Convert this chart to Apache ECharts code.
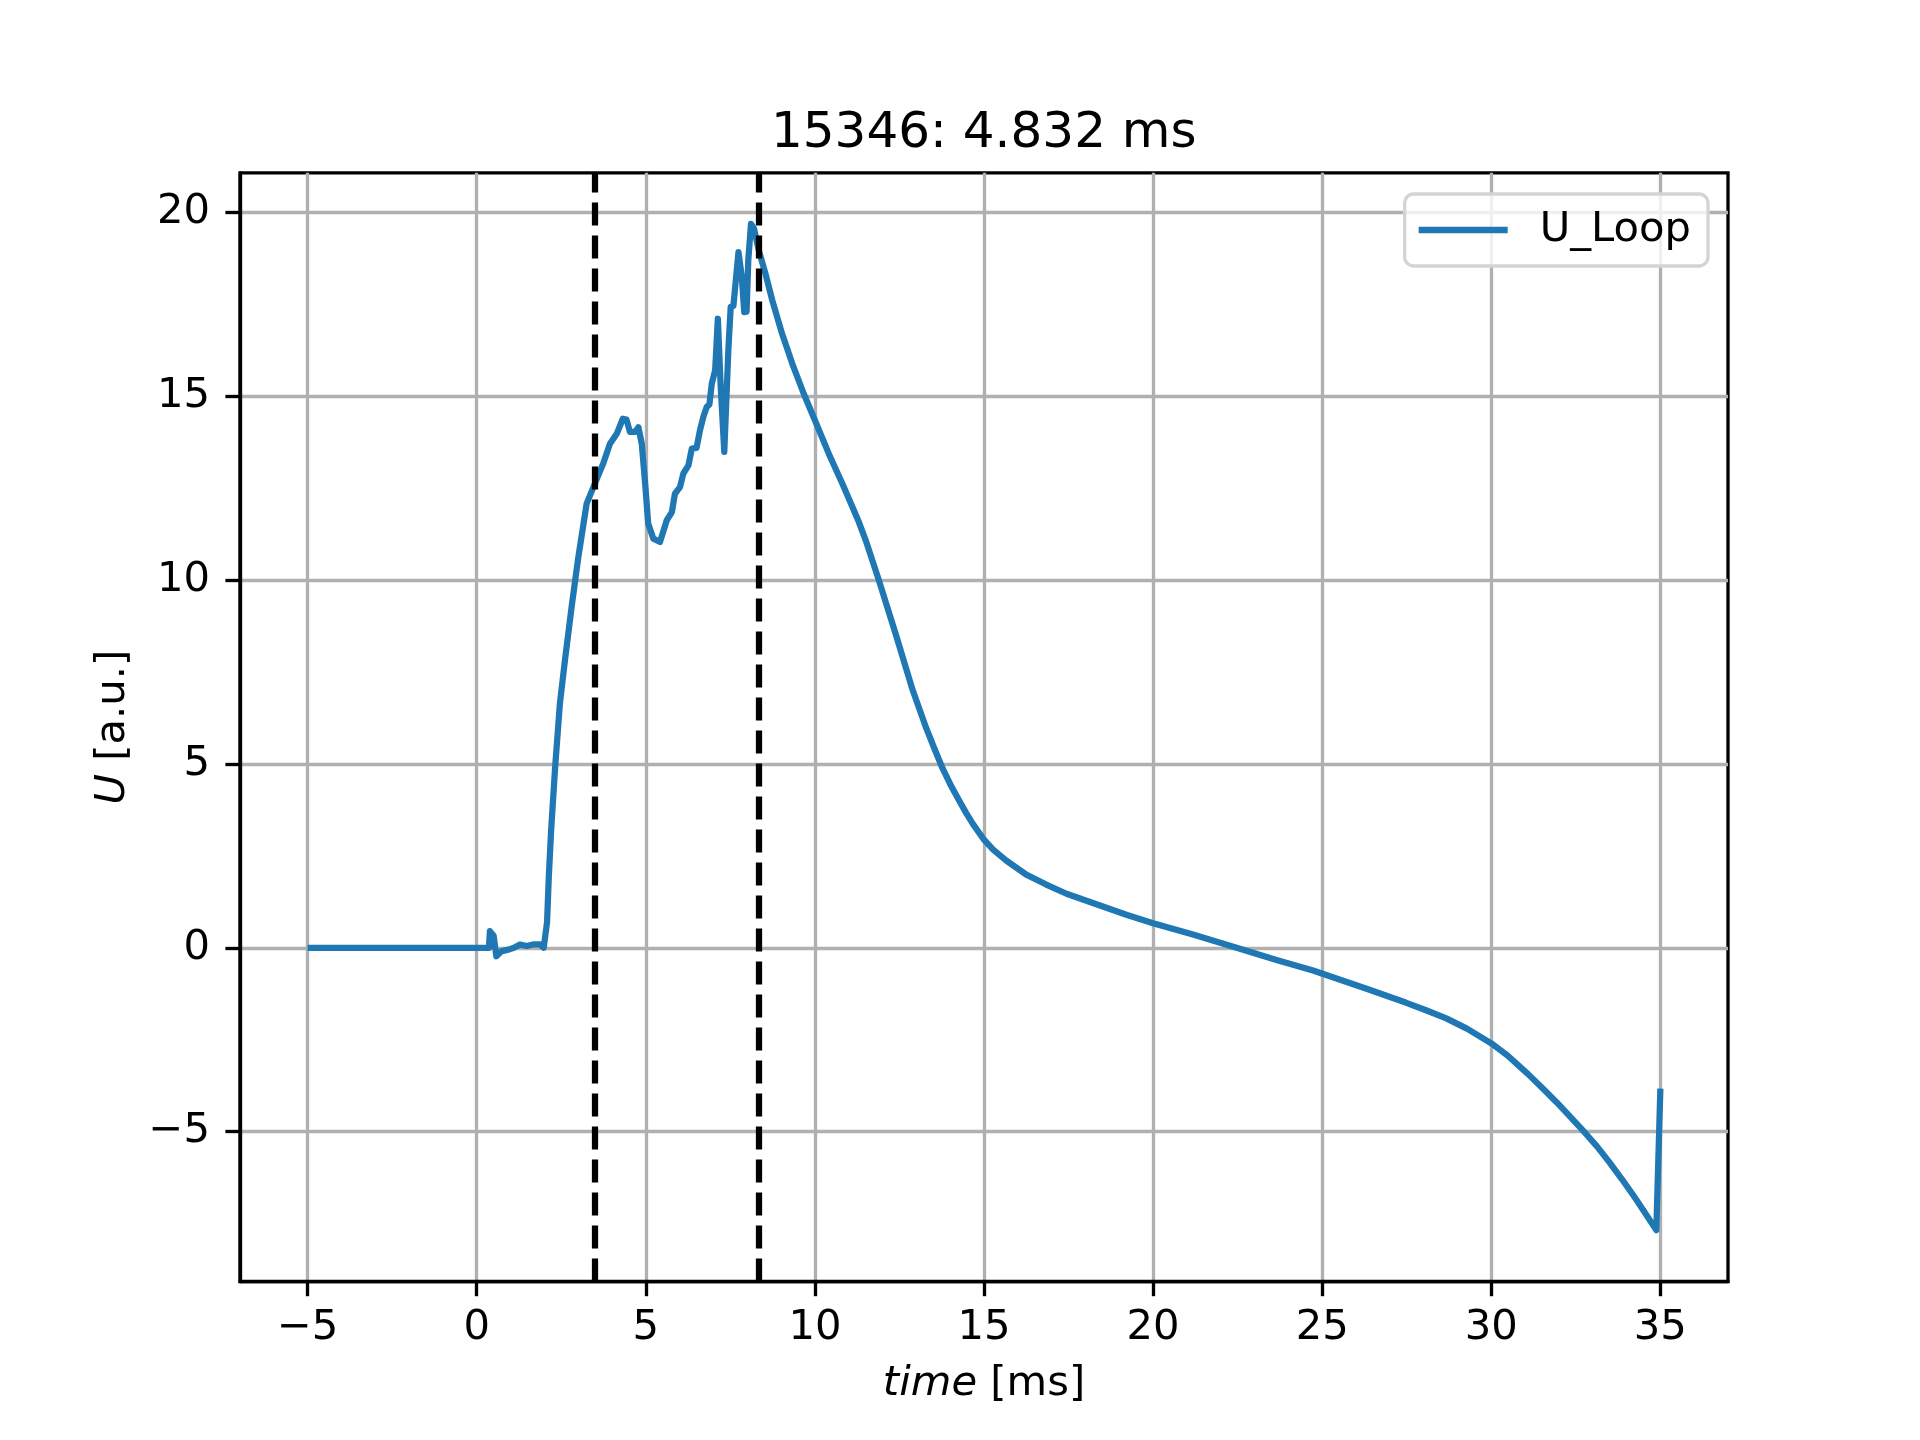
<!DOCTYPE html>
<html>
<head>
<meta charset="utf-8">
<title>15346: 4.832 ms</title>
<script src="https://cdn.jsdelivr.net/npm/echarts@6/dist/echarts.min.js"></script>
<style>
  html, body { margin: 0; padding: 0; background: #fff; }
  #chart { width: 1920px; height: 1440px; }
</style>
</head>
<body>
<div id="chart"></div>
<script>
// time axis [ms] and loop voltage [a.u.]
var time = [-5, 0.36, 0.39, 0.50, 0.58, 0.74, 0.94, 1.10, 1.28, 1.48,
    1.67, 1.87, 1.98, 2.03, 2.08, 2.13, 2.20, 2.32, 2.46, 2.61,
    2.81, 3.00, 3.25, 3.45, 3.74, 3.94, 4.14, 4.32, 4.43, 4.53,
    4.68, 4.78, 4.88, 4.98, 5.07, 5.22, 5.42, 5.62, 5.77, 5.86,
    6.01, 6.11, 6.26, 6.36, 6.50, 6.60, 6.70, 6.80, 6.88, 6.95,
    7.05, 7.13, 7.21, 7.32, 7.44, 7.51, 7.59, 7.67, 7.74, 7.84,
    7.91, 7.98, 8.03, 8.11, 8.20, 8.34, 8.54, 8.74, 9.03, 9.33,
    9.67, 10.00, 10.41, 10.81, 11.10, 11.30, 11.50, 11.89, 12.40, 12.89,
    13.29, 13.55, 13.78, 14.03, 14.28, 14.47, 14.67, 15.00, 15.27, 15.66,
    16.25, 16.84, 17.44, 18.22, 19.21, 20.00, 21.18, 22.47, 23.65, 24.73,
    26.27, 27.47, 28.07, 28.67, 29.28, 30.00, 30.48, 31.08, 31.57, 31.93,
    32.29, 32.77, 33.13, 33.49, 33.86, 34.22, 34.52, 34.88, 35.00];

var uLoop = [0, 0, 0.45, 0.33, -0.23, -0.09, -0.05, 0.0, 0.09, 0.05,
    0.09, 0.09, 0.0, 0.05, 0.7, 1.9, 3.2, 4.93, 6.65, 7.83,
    9.3, 10.6, 12.08, 12.53, 13.17, 13.71, 13.98, 14.39, 14.37, 14.03,
    14.03, 14.16, 13.71, 12.63, 11.54, 11.13, 11.04, 11.63, 11.85, 12.35,
    12.53, 12.90, 13.12, 13.58, 13.60, 14.07, 14.44, 14.71, 14.78, 15.34,
    15.71, 17.11, 15.34, 13.49, 16.25, 17.43, 17.46, 18.24, 18.92, 18.24,
    17.29, 17.30, 18.70, 19.69, 19.56, 18.97, 18.33, 17.61, 16.70, 15.89,
    15.07, 14.35, 13.44, 12.63, 12.01, 11.58, 11.09, 10.0, 8.5, 7.01,
    5.98, 5.38, 4.87, 4.40, 3.98, 3.67, 3.37, 2.94, 2.67, 2.37,
    1.99, 1.72, 1.47, 1.22, 0.90, 0.67, 0.36, 0.0, -0.33, -0.62,
    -1.10, -1.49, -1.70, -1.92, -2.20, -2.60, -2.93, -3.43, -3.87, -4.20,
    -4.55, -5.03, -5.41, -5.83, -6.29, -6.76, -7.17, -7.68, -3.83];

// window markers (start / end), 8.332 - 3.5 = 4.832 ms
var windowLines = [3.5, 8.332];

var xTicks = [-5, 0, 5, 10, 15, 20, 25, 30, 35];
var yTicks = [-5, 0, 5, 10, 15, 20];

var font = 'DejaVu Sans';
var fs = 41.7;   // 10pt @ 300dpi
var lw = 3.33;   // 0.8pt

function minus(v) {
    return String(v).replace('-', '\u2212');
}

var points = time.map(function (t, i) { return [t, uLoop[i]]; });

var myChart = echarts.init(document.getElementById('chart'), null, {renderer: 'canvas'});

myChart.setOption({
    animation: false,
    backgroundColor: '#ffffff',
    title: {
        text: '15346: 4.832 ms',
        left: 771,
        top: 109,
        padding: 0,
        textStyle: {
            fontFamily: font,
            fontSize: 50,
            fontWeight: 'normal',
            color: '#000'
        }
    },
    legend: {
        data: ['U_Loop'],
        right: 212,
        top: 194,
        padding: [15, 17, 15, 14],
        icon: 'rect',
        itemWidth: 89,
        itemHeight: 6.5,
        backgroundColor: 'rgba(255,255,255,0.8)',
        borderColor: '#d4d4d4',
        borderWidth: 3.3,
        borderRadius: 9,
        textStyle: {
            fontFamily: font,
            fontSize: fs,
            color: '#000',
            padding: [0, 0, 0, 27]
        }
    },
    grid: {
        left: 240,
        right: 192,
        top: 172.8,
        bottom: 158.4,
        show: true,
        borderColor: '#000',
        borderWidth: lw,
        backgroundColor: 'transparent',
        containLabel: false,
        outerBoundsMode: 'none'
    },
    xAxis: {
        type: 'value',
        min: -7,
        max: 37,
        name: '{i|time} [ms]',
        nameLocation: 'middle',
        nameGap: 82,
        nameTextStyle: {
            fontFamily: font,
            fontSize: fs,
            color: '#000',
            rich: {
                i: { fontFamily: font, fontSize: fs, fontStyle: 'italic', color: '#000' }
            }
        },
        axisLine: { onZero: false, lineStyle: { color: '#000', width: lw } },
        axisTick: {
            customValues: xTicks,
            length: 14.6,
            lineStyle: { color: '#000', width: lw }
        },
        axisLabel: {
            customValues: xTicks,
            margin: 26,
            fontFamily: font,
            fontSize: fs,
            color: '#000',
            formatter: minus
        },
        splitLine: {
            show: true,
            lineStyle: { color: '#b0b0b0', width: lw }
        }
    },
    yAxis: {
        type: 'value',
        min: -9.08,
        max: 21.08,
        name: '{i|U} [a.u.]',
        nameLocation: 'middle',
        nameGap: 106,
        nameTextStyle: {
            fontFamily: font,
            fontSize: fs,
            color: '#000',
            rich: {
                i: { fontFamily: font, fontSize: fs, fontStyle: 'italic', color: '#000' }
            }
        },
        axisLine: { onZero: false, lineStyle: { color: '#000', width: lw } },
        axisTick: {
            customValues: yTicks,
            length: 14.6,
            lineStyle: { color: '#000', width: lw }
        },
        axisLabel: {
            customValues: yTicks,
            margin: 30,
            fontFamily: font,
            fontSize: fs,
            color: '#000',
            formatter: minus
        },
        splitLine: {
            show: true,
            lineStyle: { color: '#b0b0b0', width: lw }
        }
    },
    series: [
        {
            name: 'U_Loop',
            type: 'line',
            data: points,
            showSymbol: false,
            symbol: 'none',
            color: '#1f77b4',
            lineStyle: { color: '#1f77b4', width: 6.25, join: 'round' },
            markLine: {
                silent: true,
                symbol: ['none', 'none'],
                label: { show: false },
                emphasis: { disabled: true },
                lineStyle: { color: '#000', width: 6.25, type: [23, 10], cap: 'butt' },
                data: windowLines.map(function (v) { return { xAxis: v }; })
            }
        }
    ]
});
</script>
</body>
</html>
